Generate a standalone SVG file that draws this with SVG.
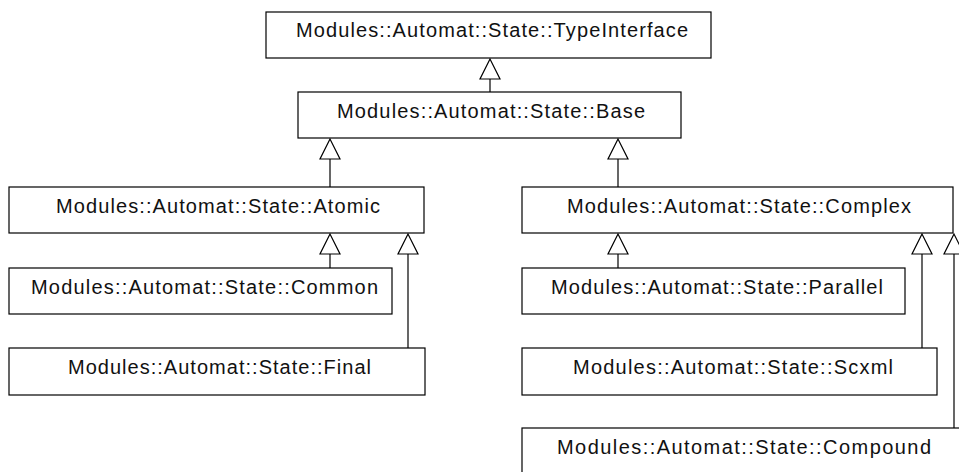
<svg xmlns="http://www.w3.org/2000/svg" width="959" height="472" viewBox="0 0 959 472">
<style>
.box{fill:#fff;stroke:#000;stroke-width:1.2}
.lbl{font-family:"Liberation Sans",Arial,sans-serif;font-size:20px;fill:#111}
.edge{fill:none;stroke:#000;stroke-width:1.2}
.head{fill:#fff;stroke:#000;stroke-width:1.2}
</style>
<rect width="959" height="472" fill="#fff"/>
<g id="connectors">
<path class="edge" d="M490,92V79"/><polygon class="head" points="490,59 480,79 500,79"/>
<path class="edge" d="M330,187V159"/><polygon class="head" points="330,139 320,159 340,159"/>
<path class="edge" d="M618,187V159"/><polygon class="head" points="618,139 608,159 628,159"/>
<path class="edge" d="M330,268V254"/><polygon class="head" points="330,234 320,254 340,254"/>
<path class="edge" d="M408,348V254"/><polygon class="head" points="408,234 398,254 418,254"/>
<path class="edge" d="M618,268V254"/><polygon class="head" points="618,234 608,254 628,254"/>
<path class="edge" d="M922,348V254"/><polygon class="head" points="922,234 912,254 932,254"/>
<path class="edge" d="M954,428V254"/><polygon class="head" points="954,234 944,254 964,254"/>
</g>
<g id="TypeInterface"><rect class="box" x="266" y="12" width="445" height="46"/><text class="lbl" x="296" y="37" textLength="392" lengthAdjust="spacing">Modules::Automat::State::TypeInterface</text></g>
<g id="Base"><rect class="box" x="298" y="92" width="383" height="46"/><text class="lbl" x="337" y="118" textLength="308" lengthAdjust="spacing">Modules::Automat::State::Base</text></g>
<g id="Atomic"><rect class="box" x="9" y="187" width="415" height="46"/><text class="lbl" x="56" y="213" textLength="324" lengthAdjust="spacing">Modules::Automat::State::Atomic</text></g>
<g id="Complex"><rect class="box" x="522" y="187" width="431" height="46"/><text class="lbl" x="567" y="213" textLength="344" lengthAdjust="spacing">Modules::Automat::State::Complex</text></g>
<g id="Common"><rect class="box" x="9" y="268" width="383" height="46"/><text class="lbl" x="31" y="294" textLength="347" lengthAdjust="spacing">Modules::Automat::State::Common</text></g>
<g id="Final"><rect class="box" x="9" y="348" width="416" height="47"/><text class="lbl" x="68" y="374" textLength="303" lengthAdjust="spacing">Modules::Automat::State::Final</text></g>
<g id="Parallel"><rect class="box" x="522" y="268" width="383" height="46"/><text class="lbl" x="551" y="294" textLength="332" lengthAdjust="spacing">Modules::Automat::State::Parallel</text></g>
<g id="Scxml"><rect class="box" x="522" y="348" width="415" height="47"/><text class="lbl" x="573" y="374" textLength="320" lengthAdjust="spacing">Modules::Automat::State::Scxml</text></g>
<g id="Compound"><rect class="box" x="522" y="428" width="460" height="50"/><text class="lbl" x="557" y="454" textLength="374" lengthAdjust="spacing">Modules::Automat::State::Compound</text></g>
</svg>
